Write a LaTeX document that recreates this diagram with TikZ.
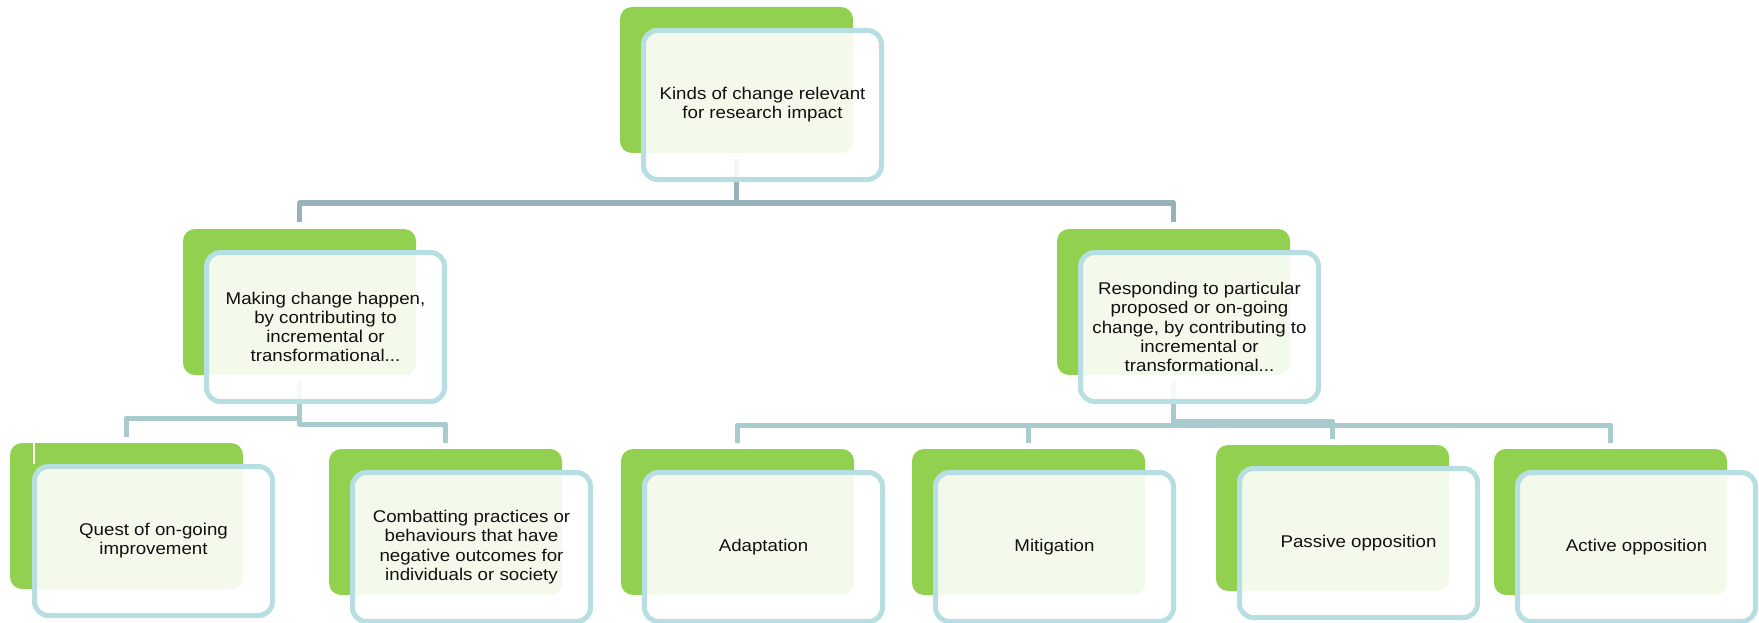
\documentclass[tikz,border=0pt]{standalone}
\usepackage{fontspec}
\setmainfont{Liberation Sans}[FakeStretch=1.1]
\definecolor{leaf}{HTML}{92D050}
\definecolor{frame}{HTML}{B7DEE3}
\definecolor{lineA}{HTML}{97B2B8}
\definecolor{lineB}{HTML}{A8CBCE}
\definecolor{ink}{HTML}{111111}
\begin{document}
\begin{tikzpicture}[x=1pt,y=-1pt,
  greenbox/.style={fill=leaf, rounded corners=12pt, minimum width=233pt,
    minimum height=146pt, inner sep=0pt, outer sep=0pt, anchor=north west},
  framebox/.style={draw=frame, line width=5pt, fill=white, fill opacity=0.89,
    text opacity=1, rounded corners=14pt, minimum width=238pt,
    minimum height=149pt, inner sep=0pt, align=center, text=ink,
    font=\fontsize{17}{19.2}\selectfont},
  linkA/.style={draw=lineA, line width=5.5pt, line join=round},
  linkB/.style={draw=lineB, line width=5pt, line join=round},
]
\useasboundingbox (0,0) rectangle (1759,623);

% green back plates
\node[greenbox] (g0) at (620,7) {};
\node[greenbox] (g1) at (183,229) {};
\node[greenbox] (g2) at (1057,229) {};
\node[greenbox] (g3) at (10,443) {};
\node[greenbox] (g4) at (329,449) {};
\node[greenbox] (g5) at (621,449) {};
\node[greenbox] (g6) at (912,449) {};
\node[greenbox] (g7) at (1216,445) {};
\node[greenbox] (g8) at (1494,449) {};

% heights of the horizontal runs
\coordinate (bus0) at (0,203);
\coordinate (bus3) at (0,418);
\coordinate (bus4) at (0,424);
\coordinate (bus5) at (0,425);
\coordinate (bus7) at (0,421);

% connectors (drawn beneath the framed boxes)
\draw[linkA] ([yshift=-6pt]g0.south) -- (g0.south |- bus0) -| ([yshift=7pt]g1.north);
\draw[linkA] ([yshift=-6pt]g0.south) -- (g0.south |- bus0) -| ([yshift=7pt]g2.north);
\draw[linkB] ([yshift=-6pt]g1.south) -- (g1.south |- bus3) -| ([yshift=6pt]g3.north);
\draw[linkB] ([yshift=-6pt]g1.south) -- (g1.south |- bus4) -| ([yshift=6pt]g4.north);
\draw[linkB] ([yshift=-6pt]g2.south) -- (g2.south |- bus5) -| ([yshift=6pt]g5.north);
\draw[linkB] ([yshift=-6pt]g2.south) -- (g2.south |- bus5) -| ([yshift=6pt]g6.north);
\draw[linkB] ([yshift=-6pt]g2.south) -- (g2.south |- bus7) -| ([yshift=6pt]g7.north);
\draw[linkB] ([yshift=-6pt]g2.south) -- (g2.south |- bus5) -| ([yshift=6pt]g8.north);

% thin light seam on the first lower plate
\draw[white, line width=2pt] (34,443) -- (34,464);

% framed text boxes
\node[framebox] (t0) at (762.5,105) {Kinds of change relevant\\for research impact};
\node[framebox] (t1) at (325.5,327) {Making change happen,\\by contributing to\\incremental or\\transformational...};
\node[framebox] (t2) at (1199.5,327) {Responding to particular\\proposed or on-going\\change, by contributing to\\incremental or\\transformational...};
\node[framebox] (t3) at (153.5,541) {Quest of on-going\\improvement};
\node[framebox] (t4) at (471.5,547) {Combatting practices or\\behaviours that have\\negative outcomes for\\individuals or society};
\node[framebox] (t5) at (763.5,547) {Adaptation};
\node[framebox] (t6) at (1054.5,547) {Mitigation};
\node[framebox] (t7) at (1358.5,543) {Passive opposition};
\node[framebox] (t8) at (1636.5,547) {Active opposition};
\end{tikzpicture}
\end{document}
